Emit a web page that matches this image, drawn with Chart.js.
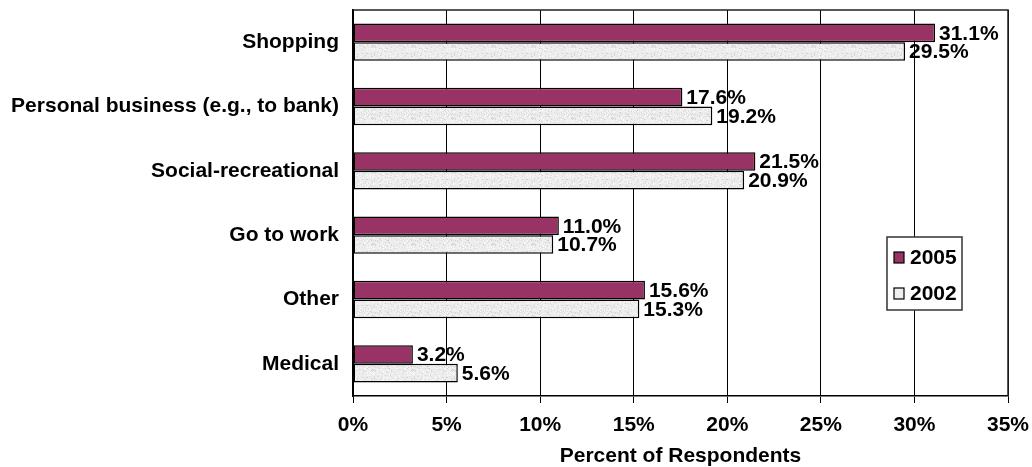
<!DOCTYPE html>
<html>
<head>
<meta charset="utf-8">
<script src="https://cdn.jsdelivr.net/npm/chart.js@4"></script>
<style>
  html, body { margin: 0; padding: 0; background: #fff; }
  #wrap { width: 1032px; height: 467px; }
</style>
</head>
<body>
<div id="wrap"><canvas id="tripChart" width="1032" height="467"></canvas></div>
<script>
const categories = ['Shopping', 'Personal business (e.g., to bank)', 'Social-recreational', 'Go to work', 'Other', 'Medical'];
const values2005 = [31.1, 17.6, 21.5, 11.0, 15.6, 3.2];
const values2002 = [29.5, 19.2, 20.9, 10.7, 15.3, 5.6];
const tickLabels = ['0%', '5%', '10%', '15%', '20%', '25%', '30%', '35%'];

const FONT = 'Liberation Sans, Arial, Helvetica, sans-serif';

// light grey speckled fill like the old excel texture
function makeTexture() {
    const c = document.createElement('canvas');
    c.width = 40;
    c.height = 18;
    const g = c.getContext('2d');
    g.fillStyle = '#ededed';
    g.fillRect(0, 0, c.width, c.height);
    for (let y = 0; y < c.height; y++) {
        for (let x = 0; x < c.width; x++) {
            const h = Math.sin(x * 12.9898 + y * 78.233) * 43758.5453;
            const f = h - Math.floor(h);
            if (f > 0.8) {
                const v = 205 + Math.round((f - 0.8) * 150);
                g.fillStyle = `rgb(${v},${v},${v})`;
                g.fillRect(x, y, 1, 1);
            } else if (f < 0.15) {
                g.fillStyle = '#f8f8f8';
                g.fillRect(x, y, 1, 1);
            }
        }
    }
    return document.getElementById('tripChart').getContext('2d').createPattern(c, 'repeat');
}
const texture = makeTexture();

// value labels at the end of each bar
const barLabels = {
    id: 'barLabels',
    afterDatasetsDraw(chart) {
        const ctx = chart.ctx;
        ctx.save();
        ctx.font = 'bold 21px ' + FONT;
        ctx.fillStyle = '#000';
        ctx.textBaseline = 'middle';
        ctx.textAlign = 'left';
        chart.data.datasets.forEach((ds, i) => {
            chart.getDatasetMeta(i).data.forEach((bar, j) => {
                ctx.fillText(ds.data[j].toFixed(1) + '%', bar.x + 4, bar.y + 1);
            });
        });
        ctx.restore();
    }
};

// frame around plot area + legend box inside it
const frameAndLegend = {
    id: 'frameAndLegend',
    afterDraw(chart) {
        const ctx = chart.ctx;
        const a = chart.chartArea;
        ctx.save();
        ctx.strokeStyle = '#222';
        ctx.lineWidth = 1.5;
        ctx.beginPath();
        ctx.moveTo(a.left, a.top);
        ctx.lineTo(a.right, a.top);
        ctx.lineTo(a.right, a.bottom);
        ctx.stroke();

        // legend
        ctx.fillStyle = '#fff';
        ctx.fillRect(887, 237, 75, 73);
        ctx.strokeStyle = '#333';
        ctx.strokeRect(887, 237, 75, 73);
        ctx.font = 'bold 21px ' + FONT;
        ctx.textBaseline = 'middle';
        ctx.textAlign = 'left';
        const items = [
            { text: '2005', color: '#993366', y: 257 },
            { text: '2002', color: '#eeeeee', y: 293 }
        ];
        items.forEach(it => {
            ctx.fillStyle = it.color;
            ctx.fillRect(894, it.y - 5, 10, 11);
            ctx.strokeStyle = '#000';
            ctx.lineWidth = 1.2;
            ctx.strokeRect(894, it.y - 5, 10, 11);
            ctx.fillStyle = '#000';
            ctx.fillText(it.text, 910, it.y + 1);
        });
        ctx.restore();
    }
};

new Chart(document.getElementById('tripChart'), {
    type: 'bar',
    data: {
        labels: categories,
        datasets: [{
            label: '2005',
            data: values2005,
            backgroundColor: '#993366',
            borderColor: '#000',
            borderWidth: 1.5,
            borderSkipped: false
        }, {
            label: '2002',
            data: values2002,
            backgroundColor: texture,
            borderColor: '#000',
            borderWidth: 1.5,
            borderSkipped: false
        }]
    },
    options: {
        indexAxis: 'y',
        responsive: false,
        animation: false,
        devicePixelRatio: 1,
        layout: { padding: { top: 10, right: 24, left: 0, bottom: 0 } },
        datasets: { bar: { categoryPercentage: 0.58, barPercentage: 1.0 } },
        plugins: {
            legend: { display: false },
            tooltip: { enabled: false }
        },
        scales: {
            x: {
                min: 0,
                max: 35,
                ticks: {
                    stepSize: 5,
                    color: '#000',
                    font: { family: FONT, size: 21, weight: 'bold' },
                    padding: 10,
                    callback: (v, i) => tickLabels[i]
                },
                grid: { color: '#000', lineWidth: 1, tickLength: 7, drawTicks: true },
                border: { display: true, color: '#000', width: 1.5 },
                title: {
                    display: true,
                    text: 'Percent of Respondents',
                    color: '#000',
                    font: { family: FONT, size: 21, weight: 'bold' },
                    padding: { top: 0, bottom: -2 }
                },
                afterFit(scale) {
                    scale.height = 71;
                    scale.paddingLeft = 0;
                    scale.paddingRight = 0;
                }
            },
            y: {
                ticks: {
                    color: '#000',
                    font: { family: FONT, size: 21, weight: 'bold' },
                    padding: 6
                },
                grid: { display: false },
                border: { display: true, color: '#000', width: 1.5 },
                afterFit(scale) {
                    scale.width = 353;
                    scale.paddingTop = 0;
                    scale.paddingBottom = 0;
                }
            }
        }
    },
    plugins: [barLabels, frameAndLegend]
});
</script>
</body>
</html>
